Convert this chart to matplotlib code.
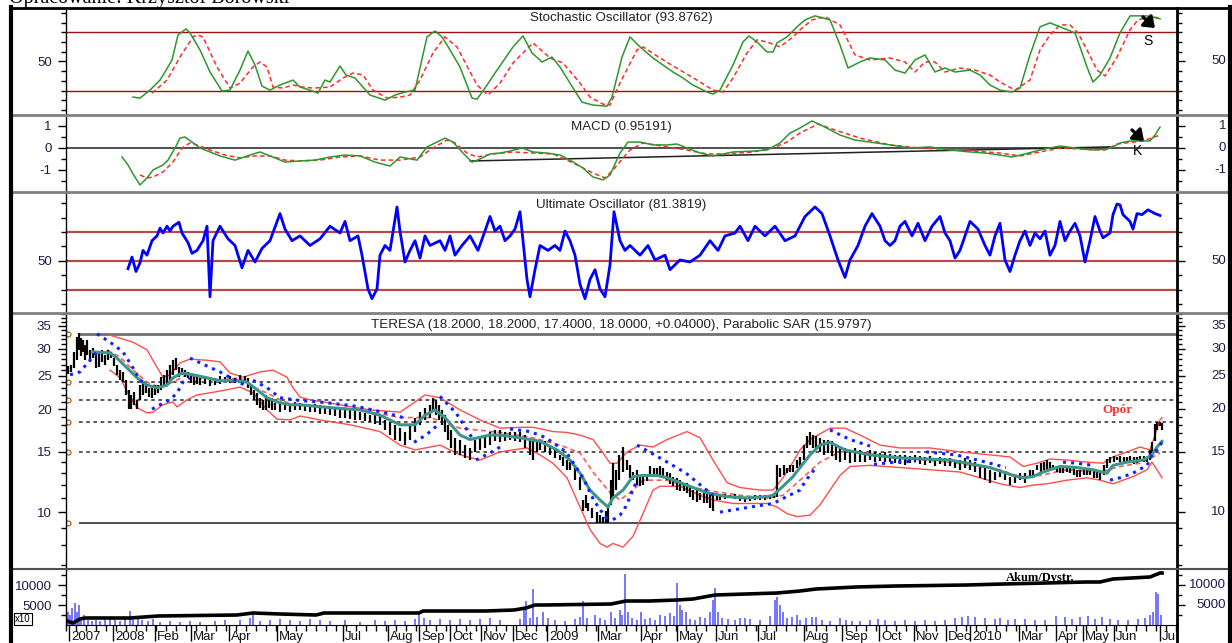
import matplotlib.pyplot as plt
from matplotlib.lines import Line2D
from matplotlib.patches import FancyArrowPatch
from matplotlib.ticker import FixedLocator, FixedFormatter, NullFormatter, NullLocator, MultipleLocator

plt.rcParams['font.family'] = ['Liberation Sans', 'DejaVu Sans']

# ---------------- data (x = session position on the date axis) ----------------

# Stochastic %K (green) and %D (red dashed)
stoch_k_t = [33.5, 37, 42, 47, 49.5, 53, 56, 60, 62, 67,
             72, 78, 82, 87, 91, 94.5, 98, 102, 107, 113.5,
             117, 122, 126, 129.5, 132, 137, 140, 144.5, 152, 159.5,
             164.5, 169.5, 174.5, 180.5, 184.5, 188, 192, 197, 203, 205.5,
             209.5, 214.5, 223.5, 228.5, 233, 238, 243, 247, 252, 258,
             263.5, 270.5, 273, 278, 282, 287, 293.5, 298.5, 303.5, 308.5,
             313.5, 320.5, 323.5, 327, 333.5, 338.5, 341.5, 345.5, 350.5, 353.5,
             355.5, 360.5, 366, 369.5, 374.5, 382, 387, 391, 397, 402,
             409.5, 414.5, 419.5, 424.5, 429.5, 434.5, 439.5, 444.5, 452, 457,
             462, 467, 473, 477, 482, 487, 492, 497, 504.5, 507,
             510.5, 513.5, 517, 522, 527, 532, 540.5, 547]
stoch_k = [13.4, 12.4, 20.6, 30.9, 39.2, 51.6, 77.3, 83.5, 79.4, 61.9,
           39.2, 19.6, 20.6, 41.2, 60.8, 46.4, 24.7, 20.6, 25.8, 30.9,
           23.7, 20.6, 17.5, 30.9, 28.9, 45.4, 36.1, 33.0, 15.5, 10.3,
           15.5, 18.6, 20.6, 75.3, 81.4, 75.3, 61.9, 44.3, 12.4, 11.3,
           22.7, 38.1, 65.0, 76.3, 58.8, 49.5, 54.6, 44.3, 27.8, 8.2,
           5.2, 4.1, 13.4, 54.6, 75.3, 65.0, 53.6, 46.4, 39.2, 33.0,
           25.8, 18.6, 16.5, 20.6, 46.4, 70.1, 76.3, 70.1, 59.8, 59.8,
           69.1, 75.3, 86.6, 92.8, 96.9, 92.8, 67.0, 43.3, 49.5, 53.6,
           51.6, 41.2, 38.1, 51.6, 56.7, 39.2, 43.3, 39.2, 41.2, 36.1,
           25.8, 20.6, 18.6, 22.7, 56.7, 85.6, 89.7, 85.6, 79.4, 65.0,
           44.3, 28.9, 36.1, 53.6, 79.4, 96.9, 96.9, 93.9]
stoch_d_t = [43, 50.5, 57, 63.5, 65.5, 68.5, 75.5, 82, 87, 93.5,
             97, 100.5, 103.5, 108.5, 113.5, 118.5, 123.5, 132, 138.5, 143.5,
             148.5, 153.5, 160.5, 167, 172, 177, 183.5, 189.5, 195.5, 205.5,
             211, 217, 223.5, 233.5, 242, 248.5, 257, 262, 268.5, 272,
             277, 285.5, 288.5, 297, 307, 315.5, 323.5, 328.5, 333.5, 340.5,
             345.5, 350.5, 357, 363.5, 367, 373, 379.5, 387, 394.5, 402,
             412, 419.5, 424.5, 429.5, 434.5, 439.5, 447, 454.5, 462, 467,
             474.5, 482, 487, 492, 497, 502, 506, 510.5, 515.5, 519.5,
             525.5, 532, 536, 542, 547]
stoch_d = [17.5, 30.9, 54.6, 75.3, 77.3, 75.3, 44.3, 22.7, 27.8, 44.3,
           49.5, 44.3, 23.7, 22.7, 25.8, 23.7, 22.7, 23.7, 33.0, 38.1,
           36.1, 20.6, 12.4, 13.4, 15.5, 30.9, 58.8, 75.3, 65.0, 25.8,
           15.5, 27.8, 48.5, 69.1, 53.6, 48.5, 27.8, 13.4, 6.2, 5.2,
           27.8, 61.9, 65.0, 53.6, 41.2, 30.9, 20.6, 18.6, 33.0, 58.8,
           72.2, 70.1, 65.0, 75.3, 82.5, 92.8, 95.9, 87.6, 56.7, 51.6,
           53.6, 49.5, 39.2, 49.5, 49.5, 39.2, 43.3, 41.2, 36.1, 28.9,
           20.6, 30.9, 61.9, 77.3, 87.6, 87.6, 79.4, 61.9, 41.2, 35.1,
           54.6, 82.5, 92.8, 95.9, 94.9]

# MACD (green), signal (red dashed), trend line (black)
macd_t = [28, 31, 33.5, 37, 40.5, 43.5, 48.5, 51, 54.5, 57,
          59.5, 63, 67, 72, 77, 84.5, 92, 97, 104.5, 109.5,
          117, 124.5, 132, 139.5, 147, 154.5, 162, 167, 175.5, 180.5,
          185.5, 189.5, 193.5, 198.5, 203, 207, 212, 217, 222, 228,
          233.5, 240.5, 247, 252, 258.5, 263.5, 268.5, 272, 277, 281,
          287, 293.5, 300.5, 305.5, 310.5, 317, 323.5, 328.5, 333.5, 343.5,
          350.5, 357, 362, 367, 373, 379.5, 387, 394.5, 402, 412,
          422, 432, 442, 452, 459.5, 467, 473, 479.5, 487, 497,
          508.5, 513.5, 520.5, 523.5, 527, 532, 542, 544.5, 547]
macd = [-0.41, -0.77, -1.18, -1.68, -1.36, -1.0, -0.77, -0.55, 0.0, 0.45,
        0.5, 0.27, 0.0, -0.18, -0.36, -0.55, -0.32, -0.18, -0.45, -0.64,
        -0.59, -0.55, -0.41, -0.32, -0.36, -0.64, -0.82, -0.41, -0.55, 0.05,
        0.27, 0.45, 0.27, -0.23, -0.64, -0.5, -0.27, -0.23, -0.14, 0.0,
        -0.18, -0.23, -0.32, -0.55, -0.91, -1.32, -1.45, -1.23, -0.23, 0.27,
        0.27, 0.14, 0.14, 0.18, 0.0, -0.23, -0.36, -0.27, -0.18, -0.14,
        -0.09, 0.23, 0.68, 0.91, 1.23, 0.95, 0.59, 0.36, 0.27, 0.14,
        0.0, 0.05, -0.09, -0.18, -0.23, -0.32, -0.41, -0.27, -0.09, 0.09,
        -0.05, -0.09, -0.05, 0.05, 0.23, 0.32, 0.32, 0.59, 0.95]
signal_t = [37, 40.5, 43.5, 48.5, 53.5, 58, 62, 65.5, 72, 79.5,
            87, 94.5, 102, 109.5, 117, 127, 137, 147, 157, 167,
            177, 183.5, 190.5, 194.5, 200.5, 205.5, 213.5, 223.5, 233.5, 243.5,
            253.5, 263.5, 269.5, 273.5, 282, 288.5, 300.5, 310.5, 320.5, 330.5,
            343.5, 353.5, 360.5, 367, 376, 384.5, 397, 412, 427, 447,
            467, 477, 487, 497, 508.5, 519.5, 525.5, 538.5, 547]
signal = [-1.23, -1.36, -1.32, -1.09, -0.64, 0.0, 0.23, 0.14, -0.09, -0.32,
          -0.45, -0.36, -0.36, -0.55, -0.59, -0.55, -0.41, -0.36, -0.55, -0.55,
          -0.41, 0.0, 0.36, 0.23, -0.23, -0.41, -0.27, -0.18, -0.23, -0.27,
          -0.68, -1.14, -1.36, -1.0, -0.09, 0.23, 0.05, -0.09, -0.27, -0.27,
          -0.18, 0.0, 0.27, 0.68, 1.09, 0.82, 0.45, 0.14, 0.0, -0.09,
          -0.23, -0.36, -0.18, 0.0, -0.05, -0.09, 0.18, 0.32, 0.59]
macd_trend_t = [202, 522]
macd_trend = [-0.59, 0.05]

# Ultimate Oscillator
ult_t = [31, 33, 35, 37, 38.5, 40.5, 43, 45.5, 47, 48.5,
         50.5, 52, 53.5, 56.5, 58, 61, 63, 65.5, 68.5, 70.5,
         72, 73.5, 77, 81, 84.5, 88, 91, 94.5, 98, 102,
         107, 109.5, 113, 117, 122, 127, 132, 137, 139.5, 142,
         146, 148, 151, 153, 155.5, 157, 159.5, 162, 165.5, 167,
         169.5, 172, 174.5, 177, 179.5, 182, 187, 189.5, 192, 194.5,
         198, 202, 206, 209.5, 212, 214.5, 217, 219.5, 222, 224.5,
         227, 228.5, 230.5, 232, 234.5, 237, 241, 244.5, 247, 249.5,
         252, 254.5, 257, 259.5, 262, 264.5, 267, 269.5, 272, 274,
         277, 279.5, 282, 287, 291, 294.5, 299.5, 302, 307, 312,
         317, 322, 326, 329.5, 334.5, 337, 341, 344.5, 349.5, 354.5,
         359.5, 364.5, 369.5, 374.5, 378, 382, 386, 389.5, 392, 396,
         399.5, 403, 407, 409.5, 412, 414.5, 417, 419.5, 423, 426,
         429.5, 433, 437, 439.5, 442, 444.5, 447, 449.5, 452, 456,
         459.5, 462, 464.5, 467, 469.5, 472, 474.5, 477, 479.5, 482,
         484.5, 487, 489.5, 492, 494.5, 497, 499.5, 502, 504.5, 507,
         509.5, 512, 514.5, 517, 518.5, 522, 523.5, 525.5, 527, 528.5,
         532, 533.5, 535.5, 538, 541, 544.5, 547]
ult = [44.7, 52.7, 42.7, 48.7, 57.3, 54.0, 64.0, 67.3, 72.7, 69.3,
       74.0, 70.7, 74.0, 76.7, 69.3, 62.7, 55.3, 57.3, 64.0, 74.0,
       25.3, 64.0, 74.0, 65.3, 60.7, 45.3, 57.3, 49.3, 58.7, 64.0,
       82.7, 72.0, 64.0, 67.3, 60.7, 65.3, 74.0, 69.3, 77.3, 64.0,
       67.3, 54.0, 30.7, 24.0, 30.7, 54.0, 60.7, 57.3, 87.3, 70.7,
       49.3, 57.3, 64.0, 52.0, 67.3, 60.7, 64.0, 57.3, 67.3, 54.0,
       60.7, 67.3, 57.3, 70.7, 80.7, 70.7, 74.0, 64.0, 67.3, 72.0,
       84.0, 64.0, 37.3, 25.3, 44.0, 60.7, 57.3, 60.7, 57.3, 70.7,
       64.0, 54.0, 34.0, 24.0, 37.3, 44.0, 30.7, 25.3, 47.3, 84.0,
       64.0, 57.3, 60.7, 54.0, 60.7, 50.7, 54.0, 44.0, 50.7, 49.3,
       54.0, 64.0, 57.3, 67.3, 69.3, 74.0, 64.0, 74.0, 67.3, 74.0,
       64.0, 67.3, 80.7, 87.3, 82.7, 67.3, 50.7, 38.7, 50.7, 60.7,
       74.0, 82.7, 74.0, 64.0, 60.7, 64.0, 74.0, 77.3, 67.3, 76.0,
       64.0, 74.0, 80.7, 69.3, 64.0, 52.0, 57.3, 67.3, 77.3, 72.0,
       60.7, 54.0, 67.3, 76.0, 50.7, 42.7, 54.0, 64.0, 70.7, 60.7,
       69.3, 65.3, 70.7, 54.0, 60.7, 77.3, 64.0, 70.7, 76.0, 67.3,
       49.3, 64.0, 80.7, 70.7, 66.0, 69.3, 82.0, 89.3, 88.7, 82.0,
       77.3, 72.0, 82.7, 82.0, 85.3, 82.7, 81.4]

# TERESA price bars (high / low)
bar_t = [1, 2.5, 4, 5.5, 6.5, 7.5, 8.5, 9.5, 10.5, 12,
         13.5, 15, 16.5, 18, 19.5, 21, 22.5, 24, 25.5, 27,
         28.5, 30, 31.5, 32.5, 34, 35.5, 37, 38.5, 40, 41.5,
         43, 44.5, 46, 47.5, 49, 50.5, 52, 53.5, 55, 56.5,
         58, 59.5, 61, 62.5, 64, 65.5, 67, 69.5, 72, 74.5,
         77, 79.5, 82, 84.5, 87, 89.5, 91, 92.5, 94, 95.5,
         97, 98.5, 100, 101.5, 103, 104.5, 107, 109.5, 112, 114.5,
         117, 119.5, 122, 124.5, 127, 129.5, 132, 134.5, 137, 139.5,
         142, 144.5, 147, 149.5, 152, 154.5, 157, 159.5, 162, 164.5,
         167, 169.5, 172, 174.5, 177, 179.5, 182, 183.5, 185, 186.5,
         188, 189.5, 191, 192.5, 194.5, 197, 199.5, 202, 204.5, 207,
         209.5, 212, 214.5, 217, 219.5, 222, 224.5, 227, 229.5, 232,
         233.5, 235.5, 237, 239.5, 242, 244.5, 247, 248.5, 250.5, 252,
         254.5, 257, 258.5, 260, 261, 263, 265.5, 267, 268.5, 270,
         271, 272.5, 273.5, 275, 276.5, 278.5, 280.5, 282, 283.5, 285.5,
         287, 288.5, 290.5, 292, 294, 295.5, 297, 298.5, 300.5, 302,
         303.5, 305.5, 307, 309, 310.5, 312, 313.5, 315.5, 317, 319,
         320.5, 322, 323.5, 325.5, 327, 329.5, 332, 334.5, 337, 339.5,
         342, 344.5, 347, 349.5, 352, 354, 355.5, 357, 359, 360.5,
         362, 363.5, 365.5, 367, 369, 370.5, 372, 373.5, 375, 377,
         379, 381, 383, 385, 387, 389.5, 392, 394.5, 397, 399.5,
         402, 404.5, 407, 409.5, 412, 414.5, 417, 419.5, 422, 424.5,
         427, 429.5, 432, 434.5, 437, 439.5, 442, 444.5, 447, 449.5,
         452, 454.5, 457, 459.5, 462, 464.5, 467, 469.5, 472, 474.5,
         477, 479.5, 482, 483.5, 485.5, 487.5, 489, 490.5, 492, 493.5,
         495.5, 497, 498.5, 500.5, 502, 504, 505.5, 507, 509, 510.5,
         512, 514, 515.5, 517, 519, 520.5, 522, 524, 525.5, 527,
         529, 530.5, 532, 534, 535.5, 537, 539, 540.5, 542, 543,
         544.5, 545.5, 547, 548]
bar_hi = [26.7, 26.9, 29.4, 32.5, 33.4, 32.3, 31.9, 30.8, 31.9, 29.8,
          30.2, 29.4, 29.2, 29.8, 28.8, 29.8, 29.4, 28.2, 26.9, 26.0,
          25.7, 24.3, 22.8, 22.0, 22.4, 21.3, 23.5, 23.8, 23.5, 23.1,
          23.1, 23.5, 23.5, 24.8, 25.2, 26.0, 26.9, 27.8, 28.2, 26.5,
          26.4, 26.0, 25.7, 25.2, 24.8, 24.8, 24.7, 24.7, 24.3, 24.7,
          25.0, 24.8, 25.0, 24.7, 25.2, 25.0, 24.7, 23.5, 22.8, 22.3,
          21.6, 21.3, 22.0, 21.6, 21.6, 20.9, 20.9, 20.9, 20.7, 21.0,
          20.9, 20.7, 20.6, 20.7, 20.6, 20.4, 20.3, 20.2, 20.2, 19.9,
          19.9, 19.9, 19.6, 19.5, 19.2, 19.2, 19.1, 18.6, 18.4, 18.0,
          17.6, 17.1, 18.0, 18.9, 19.6, 20.2, 20.6, 21.6, 21.3, 20.6,
          19.9, 19.2, 18.0, 17.4, 16.5, 16.3, 15.7, 15.4, 16.3, 16.5,
          16.8, 17.2, 17.4, 17.4, 17.2, 17.2, 17.2, 17.1, 16.8, 16.5,
          16.3, 16.3, 16.3, 16.1, 15.7, 15.2, 14.7, 14.5, 14.2, 14.0,
          13.7, 12.7, 10.85, 11.2, 10.6, 10.3, 10.0, 9.8, 9.7, 10.1,
          10.35, 12.4, 13.9, 13.3, 14.7, 15.5, 14.2, 13.7, 13.1, 13.3,
          12.7, 12.8, 12.7, 13.6, 13.5, 13.5, 13.6, 13.5, 13.1, 13.0,
          12.7, 12.6, 12.4, 12.2, 12.2, 11.9, 11.6, 11.6, 11.4, 11.4,
          11.4, 11.3, 11.2, 11.3, 11.2, 11.3, 11.2, 11.3, 11.1, 11.1,
          11.1, 11.2, 11.2, 11.2, 11.2, 11.2, 13.7, 13.5, 13.7, 13.5,
          13.7, 13.7, 14.2, 14.5, 15.7, 16.7, 17.2, 16.8, 16.7, 16.5,
          16.3, 16.3, 16.1, 15.7, 15.4, 15.4, 15.2, 15.4, 15.2, 15.0,
          15.2, 15.0, 14.9, 15.0, 14.8, 14.7, 14.7, 14.7, 14.6, 14.7,
          14.6, 14.5, 14.6, 14.4, 14.5, 14.4, 14.4, 14.2, 14.2, 14.4,
          14.2, 14.0, 13.7, 13.6, 13.3, 13.1, 13.3, 13.1, 12.7, 12.8,
          13.0, 13.0, 13.3, 13.3, 13.7, 13.9, 14.0, 14.2, 14.0, 13.7,
          13.6, 13.6, 13.5, 13.6, 13.5, 13.5, 13.3, 13.3, 13.3, 13.3,
          13.3, 13.2, 13.1, 13.0, 13.7, 14.3, 14.5, 14.6, 14.5, 14.6,
          14.5, 14.5, 14.6, 14.5, 14.5, 14.6, 14.6, 14.5, 15.2, 16.0,
          18.1, 18.4, 18.4, 18.2]
bar_lo = [25.3, 25.7, 26.4, 27.8, 29.8, 28.6, 29.4, 27.8, 28.8, 27.5,
          28.2, 26.4, 26.5, 27.5, 26.9, 27.8, 28.2, 26.7, 25.2, 24.3,
          24.0, 22.0, 20.0, 20.0, 20.6, 20.0, 21.3, 22.0, 22.3, 21.7,
          21.6, 22.0, 22.3, 22.8, 23.2, 23.5, 24.3, 25.2, 26.0, 24.8,
          25.2, 24.8, 24.7, 23.8, 23.5, 23.7, 23.5, 23.7, 23.4, 23.5,
          23.7, 24.0, 23.8, 23.8, 24.0, 23.8, 23.1, 22.0, 21.3, 20.6,
          20.2, 19.9, 19.9, 20.2, 19.9, 19.9, 19.6, 19.9, 19.6, 19.9,
          19.9, 19.8, 19.6, 19.6, 19.4, 19.4, 19.2, 19.1, 18.9, 18.9,
          18.7, 18.6, 18.6, 18.5, 18.4, 18.1, 18.0, 17.4, 16.8, 16.3,
          16.1, 15.7, 16.3, 17.2, 18.0, 18.6, 18.9, 19.6, 19.2, 18.6,
          18.0, 17.2, 16.3, 15.4, 14.7, 14.7, 14.4, 14.2, 15.0, 15.2,
          15.4, 15.7, 16.1, 16.0, 16.1, 16.3, 16.1, 16.0, 15.4, 14.7,
          14.2, 15.0, 15.2, 15.0, 14.7, 14.4, 14.2, 13.6, 13.3, 13.3,
          12.4, 11.6, 10.1, 10.3, 10.1, 9.6, 9.3, 9.3, 9.3, 9.3,
          9.3, 10.5, 11.1, 11.6, 12.4, 13.1, 13.3, 12.6, 12.4, 12.0,
          11.9, 12.0, 12.3, 12.7, 12.7, 12.7, 12.8, 12.6, 12.4, 12.1,
          11.9, 11.6, 11.5, 11.5, 11.4, 11.1, 10.85, 10.7, 10.85, 10.6,
          10.6, 10.3, 10.1, 10.85, 10.85, 10.9, 11.0, 10.9, 10.8, 10.7,
          10.8, 10.85, 10.85, 10.85, 10.9, 11.0, 11.1, 12.7, 12.8, 13.0,
          13.1, 13.1, 13.5, 13.6, 14.2, 15.4, 15.7, 15.4, 15.2, 15.0,
          14.7, 14.9, 14.6, 14.2, 14.0, 14.2, 13.9, 14.0, 14.0, 14.0,
          14.2, 14.0, 14.1, 14.0, 14.0, 13.9, 13.8, 13.7, 13.9, 14.0,
          13.8, 13.7, 13.9, 13.6, 13.8, 13.6, 13.6, 13.5, 13.3, 13.5,
          13.3, 13.1, 12.6, 12.4, 12.2, 12.4, 12.7, 12.4, 12.0, 12.2,
          12.4, 12.2, 12.6, 12.7, 13.3, 13.1, 13.3, 13.3, 13.2, 13.3,
          13.1, 13.0, 13.0, 13.1, 13.0, 12.8, 12.7, 12.7, 12.8, 12.8,
          12.8, 12.6, 12.6, 12.4, 12.8, 13.5, 13.9, 14.0, 14.2, 14.0,
          13.9, 14.0, 13.9, 13.8, 13.9, 14.0, 14.0, 14.0, 14.2, 14.9,
          16.1, 17.4, 17.9, 17.4]

# moving average (teal)
ma_t = [13.5, 22, 25.5, 30.5, 35.5, 40.5, 45.5, 50.5, 53.5, 58,
        63.5, 70.5, 77, 83.5, 90.5, 95.5, 100.5, 105.5, 112, 117,
        132, 147, 157, 167, 174.5, 179.5, 184.5, 189.5, 197, 202,
        212, 217, 227, 237, 245.5, 252, 257, 262, 267, 271,
        273.5, 278.5, 283.5, 288.5, 295.5, 300.5, 307, 313.5, 320.5, 330.5,
        340.5, 350.5, 353.5, 358.5, 363.5, 367, 372, 377, 382, 389.5,
        402, 417, 442, 462, 473.5, 478.5, 483.5, 488.5, 497, 505.5,
        513.5, 520.5, 523.5, 530.5, 538.5, 543, 545.5, 548]
ma = [29.4, 29.2, 28.2, 26.4, 24.7, 23.5, 23.1, 23.5, 24.7, 25.5,
      25.2, 24.7, 24.2, 24.3, 24.0, 22.8, 21.6, 21.0, 20.6, 20.6,
      20.2, 19.9, 19.2, 18.0, 18.0, 19.2, 19.9, 18.9, 16.8, 16.3,
      16.8, 16.8, 16.5, 16.1, 15.2, 14.2, 13.0, 11.6, 10.85, 10.35,
      11.0, 11.6, 12.7, 12.8, 12.8, 12.6, 12.2, 11.8, 11.4, 11.1,
      11.0, 11.1, 11.2, 11.9, 12.7, 13.5, 14.7, 15.7, 16.0, 15.2,
      14.7, 14.4, 14.2, 13.5, 12.8, 12.6, 12.7, 13.1, 13.6, 13.5,
      13.3, 13.0, 13.7, 14.0, 14.2, 14.7, 15.5, 16.1]

# longer moving average (red dashed)
ma2_t = [20.5, 27, 33.5, 40.5, 47, 53.5, 60.5, 67, 77, 87,
         93.5, 100.5, 107, 113.5, 127, 147, 167, 182, 197, 217,
         233.5, 247, 257, 263.5, 272, 277, 283.5, 288.5, 300.5, 310.5,
         323.5, 337, 350.5, 358.5, 367, 377, 387, 397, 417, 442,
         467, 477, 487, 500.5, 517, 527, 537, 543.5, 547]
ma2 = [29.8, 28.4, 26.0, 24.0, 23.1, 24.0, 25.2, 24.7, 24.3, 24.7,
       23.2, 22.3, 21.3, 20.6, 20.4, 19.9, 18.9, 18.9, 17.6, 17.1,
       16.5, 15.7, 14.9, 13.1, 11.4, 10.85, 11.6, 12.4, 12.4, 11.9,
       11.5, 11.2, 11.0, 11.2, 12.4, 14.0, 15.0, 15.0, 14.4, 14.0,
       13.3, 12.7, 12.8, 13.3, 13.1, 13.6, 13.9, 14.5, 14.9]

# Bollinger bands (red)
bb_up_t = [22, 33.5, 40.5, 45.5, 48.5, 52, 57, 62, 70.5, 77,
           82, 88.5, 97, 103.5, 110.5, 113.5, 117, 122, 137, 152,
           167, 179.5, 187, 197, 207, 217, 227, 233.5, 243.5, 250.5,
           257, 263.5, 268.5, 272, 275.5, 280.5, 287, 293.5, 300.5, 310.5,
           317, 323.5, 330.5, 337, 347, 353.5, 358.5, 363.5, 367, 372,
           382, 389.5, 397, 407, 417, 432, 447, 462, 472, 478.5,
           485.5, 492, 500.5, 510.5, 518.5, 523.5, 530.5, 537, 542, 544.5,
           547, 548]
bb_up = [32.9, 31.4, 29.8, 26.5, 24.8, 25.2, 27.3, 28.0, 27.8, 27.5,
         25.5, 24.8, 25.7, 26.0, 24.8, 23.1, 21.7, 21.3, 20.6, 19.9,
         19.6, 22.0, 21.6, 19.9, 18.6, 17.6, 17.7, 17.7, 17.2, 17.1,
         16.8, 16.3, 14.9, 13.9, 13.9, 15.0, 15.7, 15.5, 16.3, 17.2,
         16.5, 14.2, 12.2, 11.8, 11.6, 11.6, 12.6, 14.0, 15.2, 16.3,
         17.6, 17.6, 16.8, 15.7, 15.4, 15.4, 15.0, 14.7, 14.5, 13.6,
         13.9, 14.3, 14.2, 14.0, 13.9, 14.5, 15.0, 15.5, 15.2, 16.8,
         18.6, 18.9]
bb_lo_t = [22, 27, 32, 35.5, 40.5, 43.5, 48.5, 53.5, 55.5, 60.5,
           65.5, 73.5, 80.5, 87, 93.5, 100.5, 105.5, 112, 117, 127,
           142, 157, 167, 174.5, 187, 197, 207, 217, 223.5, 230.5,
           237, 243.5, 250.5, 257, 262, 267, 270.5, 273.5, 278.5, 283.5,
           288.5, 293.5, 297, 307, 317, 323.5, 333.5, 343.5, 350.5, 355.5,
           360.5, 365.5, 372, 377, 382, 387, 392, 402, 417, 432,
           447, 457, 467, 477, 483.5, 490.5, 500.5, 510.5, 517, 523.5,
           533.5, 540.5, 543, 545.5, 548]
bb_lo = [26.0, 24.7, 21.7, 20.2, 19.5, 19.6, 20.6, 21.0, 20.3, 21.3,
         22.0, 22.4, 22.8, 23.2, 22.3, 19.9, 18.7, 18.6, 19.1, 18.6,
         18.0, 17.2, 15.7, 15.2, 15.7, 14.7, 14.2, 15.0, 15.2, 15.4,
         14.7, 13.9, 12.6, 10.35, 8.9, 8.1, 7.9, 8.1, 7.9, 8.5,
         9.9, 11.6, 11.9, 11.9, 11.2, 10.85, 10.6, 10.6, 10.6, 10.35,
         9.9, 9.7, 9.8, 10.5, 11.6, 12.8, 13.6, 13.7, 13.5, 13.3,
         13.1, 12.6, 12.1, 11.8, 12.0, 12.1, 12.4, 12.6, 12.4, 12.1,
         12.7, 13.3, 14.0, 13.3, 12.6]

# Parabolic SAR (nan separates the runs)
nan = float('nan')
sar_t = [2, 7, 12, 15.5, nan,
         15.5, 22, 28.5, 33.5, 37, 40.5, nan,
         43, 47, 52, 55.5, 58.5, 62, nan,
         62, 69.5, 77, 84.5, 89.5, nan,
         93.5, 100.5, 107, 117, 130, 145, 160, 170, nan,
         174, 180, 186, nan,
         187, 195, 203, nan,
         205, 212, 217, nan,
         222, 232, 240, 250, 258.5, 264, 269, 272, nan,
         273.5, 277, 280, 285.5, nan,
         285.5, 297, 310, 323.5, nan,
         327, 340, 353.5, 367, 370, 375, nan,
         382, 392, 402, nan,
         404, 415, 425, nan,
         430, 445, 460, 470, nan,
         498.5, 505.5, 513.5, nan,
         522, 527, 533.5, 540.5, 543.5, 545.5, 548]
sar = [25.2, 25.7, 27.8, 29.4, nan,
       33.2, 31.4, 29.4, 26.4, 24.3, 23.5, nan,
       20.0, 20.6, 21.3, 22.3, 24.0, 24.7, nan,
       28.2, 26.9, 25.7, 24.3, 23.5, nan,
       24.3, 23.1, 21.6, 21.2, 20.9, 20.4, 19.5, 18.8, nan,
       16.0, 16.8, 18.0, nan,
       21.8, 19.5, 16.5, nan,
       14.2, 14.9, 15.5, nan,
       17.5, 17.2, 16.5, 15.0, 12.6, 10.8, 9.8, 9.3, nan,
       9.5, 9.8, 10.4, 12.4, nan,
       15.7, 14.4, 13.0, 11.2, nan,
       10.0, 10.3, 10.6, 11.6, 12.4, 13.5, nan,
       17.4, 16.3, 15.6, nan,
       13.8, 14.0, 14.1, nan,
       15.0, 14.7, 14.0, 13.5, nan,
       14.0, 13.9, 13.7, nan,
       12.4, 12.6, 13.0, 13.7, 14.9, 15.2, 16.0]

# support / resistance levels on the price panel
levels_solid = [33.2, 9.3]
levels_dash = [24.0, 21.3, 18.3, 15.0]

# volume (x10) and accumulation/distribution
vol_t = [1, 2, 3, 4.5, 5.5, 6.5, 7.5, 9, 11, 13,
         15, 17, 19.5, 22, 24.5, 27, 29.5, 32, 33.5, 36,
         38, 41, 43.5, 47, 52, 57, 62, 67, 74.5, 79.5,
         87, 92, 93.5, 97, 102, 107, 112, 117, 122, 127,
         132, 139.5, 147, 154.5, 159.5, 164.5, 169.5, 174.5, 176.5, 179,
         182, 187, 192, 197, 202, 207, 212, 217, 227, 229,
         230, 232, 233.5, 235.5, 238.5, 241, 244.5, 249.5, 254.5, 257,
         258.5, 260.5, 264.5, 267, 269.5, 272.5, 274.5, 277, 278, 279.5,
         281, 283, 285.5, 287.5, 289.5, 292, 294.5, 297, 299.5, 302,
         304, 305.5, 307, 308, 310, 312, 314.5, 317, 319.5, 322,
         323.5, 324.5, 326, 328, 331, 334.5, 337, 339.5, 342, 347,
         352, 354.5, 355.5, 357, 358.5, 360.5, 363, 365.5, 367, 370,
         373, 375, 378, 382, 387, 390, 393, 397, 402, 406,
         409.5, 414.5, 419.5, 424.5, 429.5, 434.5, 439.5, 444.5, 448, 451,
         454.5, 459.5, 464.5, 467, 471, 474.5, 479.5, 484.5, 489.5, 495,
         499.5, 503, 507, 511, 514.5, 518, 522, 526, 531, 536,
         539.5, 542, 543.5, 545, 546, 547.5]
vol = [3250, 2500, 4250, 5500, 3250, 5000, 1750, 2500, 1250, 1000,
       1250, 1000, 1250, 1500, 1250, 1000, 1500, 3500, 2250, 1750,
       1250, 1000, 1500, 750, 1000, 750, 1000, 750, 1000, 1250,
       1250, 1750, 2500, 1000, 1250, 1500, 1250, 1000, 1500, 1250,
       1000, 1250, 750, 1250, 1000, 1250, 1000, 1500, 2750, 1750,
       1250, 1500, 1250, 1500, 1250, 1500, 1750, 1250, 1500, 3750,
       6000, 1750, 9000, 2000, 3250, 1750, 1250, 1000, 1500, 2000,
       6000, 1750, 2500, 1750, 1250, 3250, 1750, 3750, 2500, 12750,
       3250, 1750, 1250, 3250, 1500, 1750, 1250, 2500, 2250, 3000,
       2250, 10500, 5000, 3750, 3250, 1500, 1250, 2000, 1750, 3250,
       6250, 9250, 3250, 1750, 1500, 1250, 1750, 1750, 1500, 1250,
       2250, 6250, 7000, 5000, 3250, 1750, 2000, 2500, 1250, 1750,
       2000, 2000, 1250, 1000, 1750, 1250, 1000, 1000, 1250, 1500,
       1250, 1000, 1250, 1000, 1250, 1000, 1250, 1750, 2000, 2250,
       2000, 1750, 1500, 1750, 1250, 1500, 1500, 1250, 1250, 2250,
       2000, 1500, 2000, 2250, 1500, 2000, 1500, 1250, 1250, 1500,
       1750, 2500, 3250, 8250, 7750, 2500]
akum_t = [0.5, 3.5, 7, 9.5, 32, 46, 85.5, 93.5, 107, 125,
          129, 176.5, 178.5, 210, 224, 230, 234.5, 239.5, 272.5, 280,
          292, 305.5, 313.5, 324.5, 355.5, 367, 375, 395, 415, 450.5,
          468.5, 490, 510, 517, 523.5, 542, 544.5, 547, 548]
akum = [1000, 500, 1500, 1750, 1750, 2250, 2500, 3000, 2750, 2500,
        3000, 3000, 3500, 3500, 3750, 4250, 5000, 5000, 5250, 6000,
        6000, 6250, 6500, 7500, 8000, 8500, 9000, 9500, 9750, 10000,
        10250, 10500, 10750, 10750, 11500, 12000, 12500, 13000, 13000]

# date axis
month_t = [1.5, 23.5, 44.5, 62.5, 81.5, 105.5, 138.5, 161, 176.5, 192,
           207.5, 223.5, 240.5, 266, 287.5, 305.5, 325, 346, 369, 388,
           406.5, 424, 440, 452, 476.5, 495, 508.5, 524, 547]
month_lbl = ['2007', '2008', 'Feb', 'Mar', 'Apr', 'May', 'Jul', 'Aug', 'Sep', 'Oct',
             'Nov', 'Dec', '2009', 'Mar', 'Apr', 'May', 'Jun', 'Jul', 'Aug', 'Sep',
             'Oct', 'Nov', 'Dec', '2010', 'Mar', 'Apr', 'May', 'Jun', 'Ju']

# ---------------- layout ----------------
W, H = 1232, 643
fig = plt.figure(figsize=(W / 100, H / 100), dpi=100)
X0, X1 = 66, 1177
LBL = '#1c1c48'


def panel(top, bottom):
    ax = fig.add_axes([X0 / W, 1 - bottom / H, (X1 - X0) / W, (bottom - top) / H])
    ax.set_xlim(0, (X1 - X0) / 2)
    ax.patch.set_alpha(0)
    ax.spines['top'].set_visible(False)
    ax.spines['bottom'].set_visible(False)
    ax.spines['left'].set_linewidth(1.0)
    ax.spines['right'].set_linewidth(2.0)
    ax.xaxis.set_major_locator(NullLocator())
    ax.tick_params(axis='y', which='both', direction='out', left=True, right=True,
                   labelleft=True, labelright=False, labelsize=9.5, labelcolor=LBL, pad=4.5)
    ax.tick_params(axis='y', which='major', length=5.8, width=1)
    ax.tick_params(axis='y', which='minor', length=3.5, width=1)
    return ax


def yticks(ax, major, labels, minor):
    ax.yaxis.set_major_locator(FixedLocator(major))
    ax.yaxis.set_major_formatter(FixedFormatter(labels))
    ax.yaxis.set_minor_locator(FixedLocator(minor))
    ax.yaxis.set_minor_formatter(NullFormatter())
    for v, s in zip(major, labels):
        ax.annotate(s, xy=(1, v), xycoords=('axes fraction', 'data'), xytext=(35.5, 0),
                    textcoords='offset points', ha='right', va='center',
                    fontsize=9.5, color=LBL, annotation_clip=False)


def title(ax, y, s):
    ax.text(0.5, y, s, transform=ax.transAxes, ha='center', va='center', fontsize=9.6, color='#222222')


# Stochastic
ax1 = panel(8, 115)
ax1.set_ylim(-5, 105)
yticks(ax1, [50], ['50'], [0, 10, 20, 30, 40, 60, 70, 80, 90, 100])
for lv in (80, 20):
    ax1.axhline(lv, color='#a01010', lw=1.0)
ax1.plot(stoch_d_t, stoch_d, color='#ff2a2a', lw=1.1, dashes=(3, 2))
ax1.plot(stoch_k_t, stoch_k, color='#2e962e', lw=1.1)
title(ax1, 0.907, 'Stochastic Oscillator (93.8762)')

# MACD
ax2 = panel(115, 192)
ax2.set_ylim(-2.0, 1.5)
yticks(ax2, [-1, 0, 1], ['-1', '0', '1'], [-1.5, -0.5, 0.5])
ax2.axhline(0, color='#202020', lw=1.1)
ax2.plot(macd_trend_t, macd_trend, color='#202020', lw=1.1)
ax2.plot(signal_t, signal, color='#ff2a2a', lw=1.1, dashes=(3, 2))
ax2.plot(macd_t, macd, color='#2e962e', lw=1.1)
title(ax2, 0.844, 'MACD (0.95191)')

# Ultimate Oscillator
ax3 = panel(192, 313)
ax3.set_ylim(14.1, 97.6)
yticks(ax3, [50], ['50'], [20, 30, 40, 60, 70, 80, 90])
for lv in (70, 50, 30):
    ax3.axhline(lv, color='#b84a4a', lw=1.6)
ax3.plot(ult_t, ult, color='#0000ff', lw=2.0)
title(ax3, 0.893, 'Ultimate Oscillator (81.3819)')

# Price
ax4 = panel(313, 569)
ax4.set_yscale('log')
ax4.set_ylim(6.82, 38.2)
yticks(ax4, [10, 15, 20, 25, 30, 35], ['10', '15', '20', '25', '30', '35'], list(range(7, 39)))
ax4.hlines(levels_solid[0], 6.5, 555.5, color='#707070', lw=2.0)
ax4.hlines(levels_solid[1], 6.5, 555.5, color='#303030', lw=1.2)
for lv in levels_dash:
    ax4.hlines(lv, 6.5, 555.5, color='#4a4a4a', lw=1.3, linestyles=(0, (2, 2)))
ax4.plot([1] * 6, levels_solid + levels_dash, 'o', ms=3.5, mfc='none', mec='#b07020', mew=1)
ax4.plot(bb_up_t, bb_up, color='#ff4d4d', lw=1.0)
ax4.plot(bb_lo_t, bb_lo, color='#ff4d4d', lw=1.0)
ax4.plot(ma2_t, ma2, color='#ff5a5a', lw=1.2, dashes=(3, 2))
ax4.vlines(bar_t, bar_lo, bar_hi, color='black', lw=1.6)
ax4.plot(ma_t, ma, color='#3c968c', lw=2.2)
ax4.plot(sar_t, sar, color='#1020ff', lw=2.2, ls=':')
title(ax4, 0.953, 'TERESA (18.2000, 18.2000, 17.4000, 18.0000, +0.04000), Parabolic SAR (15.9797)')
ax4.text(525.5, 19.9, 'Opór', color='#ff3030', fontsize=9.5, fontweight='bold',
         family='Liberation Serif', ha='center', va='center')

# Volume + Akum/Dystr
ax5 = panel(569, 625)
ax5.set_ylim(0, 14000)
yticks(ax5, [5000, 10000], ['5000', '10000'], [2500, 7500, 12500])
ax5.spines['bottom'].set_visible(True)
ax5.vlines(vol_t, 0, vol, color='#6a6aff', lw=1.3)
ax5.plot(akum_t, akum, color='black', lw=2.6)
ax5.text(487, 11750, 'Akum/Dystr.', fontsize=9, fontweight='bold', family='Liberation Serif',
         ha='center', va='center')
ax5.xaxis.set_major_locator(FixedLocator(month_t))
ax5.xaxis.set_major_formatter(NullFormatter())
ax5.xaxis.set_minor_locator(MultipleLocator(5))
ax5.tick_params(axis='x', which='major', direction='out', length=11.5, width=1)
ax5.tick_params(axis='x', which='minor', direction='out', length=4.3, width=1)
for t, s in zip(month_t, month_lbl):
    ax5.annotate(s, xy=(t, 0), xycoords=('data', 'axes fraction'), xytext=(1.6, -8.8),
                 textcoords='offset points', ha='left', va='center', fontsize=9.5,
                 color='#111111', annotation_clip=False)

# ---------------- frame ----------------


def fline(x0, y0, x1, y1, **kw):
    fig.add_artist(Line2D([x0 / W, x1 / W], [1 - y0 / H, 1 - y1 / H], transform=fig.transFigure, **kw))


for y in (115, 192, 313):
    fline(11, y, 1230, y, color='#808080', lw=2.0)
fline(11, 569, 1230, 569, color='#505050', lw=1.5)
fline(11, 8, 1230, 8, color='black', lw=2.0)
fline(11, 7, 11, 643, color='black', lw=3.0)
fline(1230, 7, 1230, 643, color='black', lw=3.0)
fline(X1, 625, X1, 643, color='black', lw=2.0)

fig.text(15 / W, 1 - 619 / H, 'x10', fontsize=7, ha='left', va='center',
         bbox=dict(boxstyle='square,pad=0.15', fc='white', ec='black', lw=0.8))
fig.text(9 / W, 1 - 3 / H, 'Opracowanie: Krzysztof Borowski', fontsize=14.5,
         family='Liberation Serif', ha='left', va='baseline')


# arrows next to the last values (pointing down-right)
def arrow(x0, y0, x1, y1):
    fig.add_artist(FancyArrowPatch((x0 / W, 1 - y0 / H), (x1 / W, 1 - y1 / H),
                                   transform=fig.transFigure, arrowstyle='-|>,head_length=4,head_width=3',
                                   mutation_scale=1.5, lw=2.4, color='black',
                                   shrinkA=0, shrinkB=0))


arrow(1143, 17, 1155, 28)
fig.text(1148 / W, 1 - 41 / H, 'S', fontsize=10, ha='center', va='center')
arrow(1132, 130, 1144, 141)
fig.text(1137 / W, 1 - 151 / H, 'K', fontsize=10, ha='center', va='center')

fig.savefig('out.png', dpi=100)
